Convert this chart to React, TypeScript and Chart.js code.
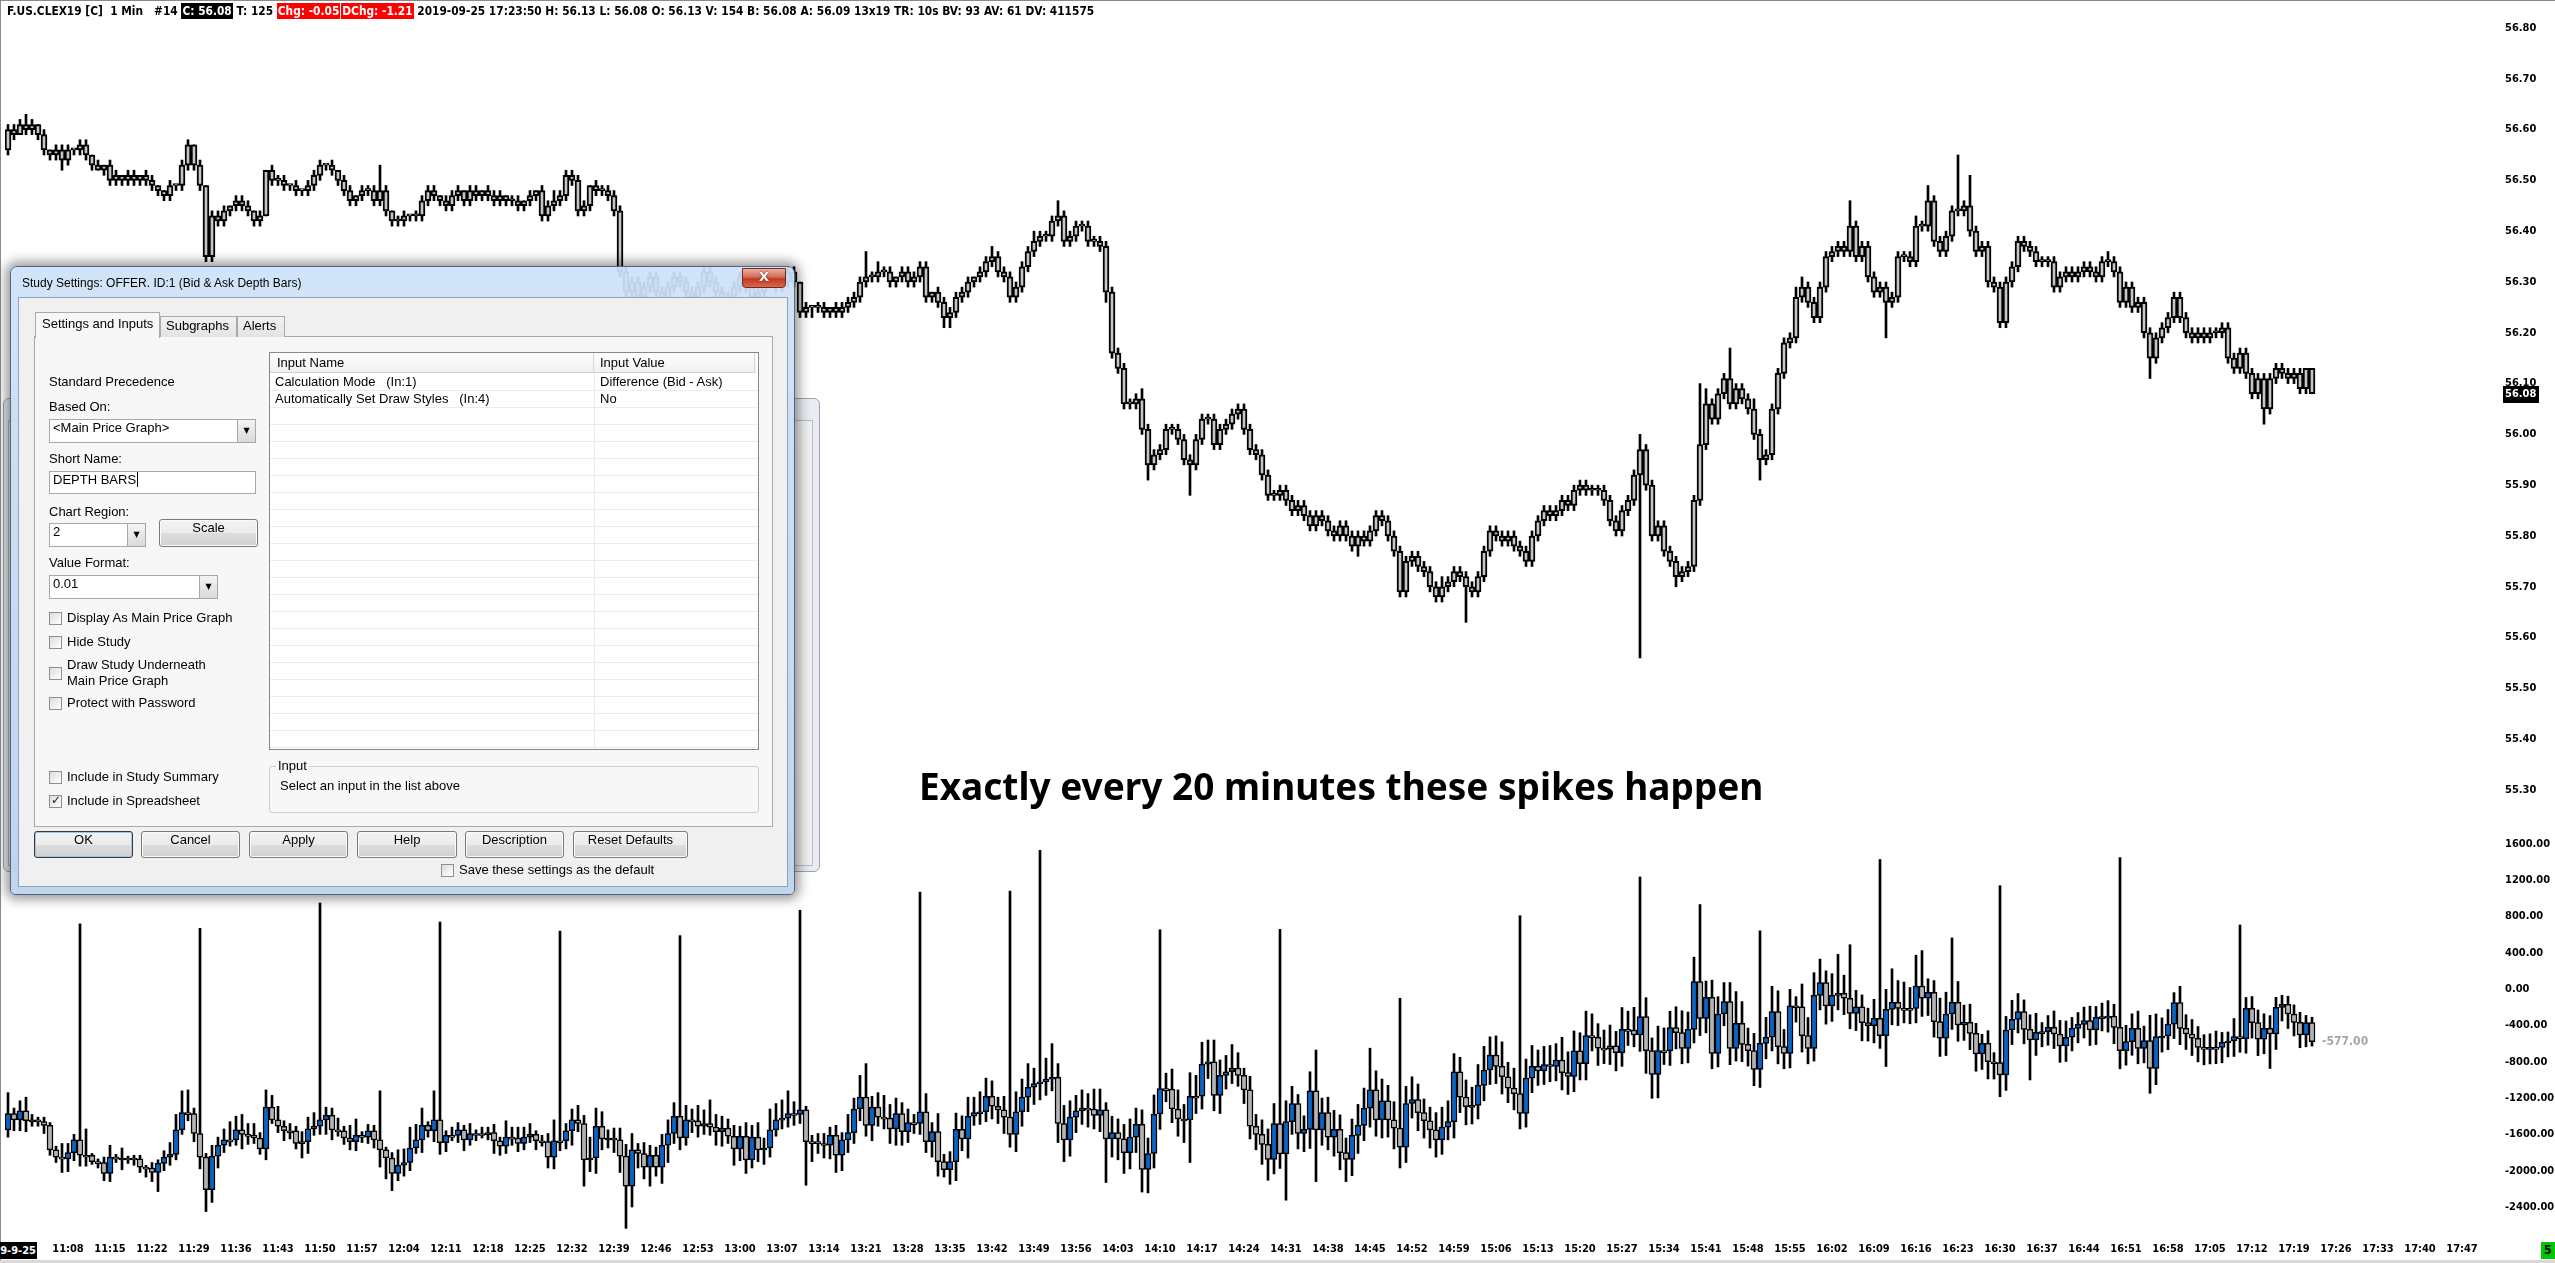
import React, { useEffect, useRef } from "react";
import { Chart, registerables } from "chart.js";
Chart.register(...registerables);

// ---------- categories (1-minute bars) ----------
const START_MINUTE = 10 * 60 + 58; // first slot 10:58
const SLOT_COUNT = 414;
const timeLabels: string[] = Array.from({ length: SLOT_COUNT }, (_, i) => {
  const m = START_MINUTE + i;
  return `${Math.floor(m / 60)}:${String(m % 60).padStart(2, "0")}`;
});
const FIRST_TICK_INDEX = 10; // 11:08
const TICK_EVERY = 7;

const priceTicks = [56.8, 56.7, 56.6, 56.5, 56.4, 56.3, 56.2, 56.1, 56.0, 55.9, 55.8, 55.7, 55.6, 55.5, 55.4, 55.3];
const depthTicks = [1600, 1200, 800, 400, 0, -400, -800, -1200, -1600, -2000, -2400];

// ---------- price (cents) ----------
const PRICE_OPEN0 = 5656;
const priceCloseCents = [
  5660, 5659, 5661, 5660, 5661, 5659, 5656, 5655, 5656, 5654,
  5656, 5656, 5657, 5655, 5653, 5652, 5653, 5650, 5651, 5650,
  5651, 5650, 5651, 5650, 5649, 5648, 5647, 5649, 5649, 5653,
  5657, 5653, 5649, 5635, 5643, 5642, 5644, 5645, 5646, 5645,
  5644, 5642, 5643, 5652, 5650, 5650, 5649, 5649, 5648, 5648,
  5649, 5651, 5653, 5653, 5652, 5650, 5648, 5646, 5647, 5648,
  5648, 5646, 5648, 5644, 5642, 5642, 5643, 5643, 5643, 5646,
  5648, 5647, 5646, 5645, 5647, 5648, 5646, 5648, 5647, 5648,
  5647, 5646, 5647, 5646, 5646, 5645, 5646, 5647, 5648, 5643,
  5645, 5646, 5647, 5651, 5650, 5644, 5645, 5649, 5648, 5648,
  5647, 5644, 5632, 5628, 5630, 5627, 5629, 5631, 5628, 5626,
  5629, 5631, 5630, 5628, 5627, 5629, 5632, 5630, 5628, 5626,
  5627, 5629, 5631, 5629, 5627, 5628, 5630, 5631, 5629, 5630,
  5632, 5630, 5624, 5625, 5625, 5625, 5624, 5625, 5624, 5625,
  5626, 5627, 5630, 5631, 5631, 5632, 5632, 5630, 5631, 5632,
  5630, 5631, 5633, 5627, 5628, 5626, 5623, 5624, 5627, 5628,
  5630, 5631, 5632, 5634, 5635, 5632, 5631, 5627, 5629, 5633,
  5636, 5638, 5639, 5639, 5642, 5643, 5638, 5639, 5641, 5641,
  5638, 5638, 5637, 5628, 5616, 5613, 5606, 5606, 5607, 5601,
  5594, 5596, 5597, 5601, 5601, 5599, 5595, 5594, 5599, 5603,
  5603, 5598, 5601, 5602, 5604, 5605, 5601, 5597, 5596, 5592,
  5588, 5588, 5589, 5587, 5585, 5586, 5584, 5582, 5584, 5583,
  5581, 5580, 5582, 5580, 5578, 5580, 5579, 5581, 5584, 5583,
  5580, 5577, 5569, 5575, 5576, 5574, 5573, 5570, 5568, 5570,
  5571, 5573, 5572, 5570, 5569, 5572, 5577, 5581, 5580, 5579,
  5580, 5578, 5577, 5575, 5580, 5583, 5585, 5584, 5585, 5587,
  5586, 5589, 5590, 5589, 5589, 5589, 5587, 5583, 5581, 5585,
  5587, 5592, 5597, 5590, 5580, 5582, 5577, 5575, 5572, 5573,
  5574, 5587, 5598, 5606, 5603, 5608, 5611, 5606, 5609, 5607,
  5605, 5600, 5595, 5596, 5605, 5612, 5618, 5619, 5627, 5629,
  5626, 5623, 5629, 5635, 5636, 5637, 5636, 5641, 5635, 5637,
  5631, 5628, 5629, 5626, 5627, 5635, 5635, 5634, 5641, 5641,
  5646, 5638, 5636, 5639, 5644, 5644, 5645, 5640, 5636, 5637,
  5630, 5629, 5622, 5630, 5633, 5638, 5637, 5636, 5634, 5634,
  5634, 5629, 5631, 5632, 5631, 5632, 5633, 5632, 5631, 5634,
  5634, 5632, 5626, 5629, 5625, 5626, 5620, 5615, 5619, 5621,
  5623, 5627, 5623, 5620, 5619, 5620, 5619, 5620, 5620, 5621,
  5615, 5613, 5616, 5612, 5608, 5611, 5605, 5611, 5613, 5612,
  5611, 5612, 5609, 5613, 5608,
];
const priceWickUpCents = [
  1, 1, 1, 2, 1, 0, 1, 0, 1, 1,
  1, 0, 1, 1, 0, 1, 0, 1, 1, 0,
  1, 1, 0, 1, 1, 0, 0, 1, 0, 1,
  1, 0, 1, 0, 1, 1, 1, 0, 1, 1,
  1, 0, 1, 0, 1, 1, 1, 0, 1, 0,
  1, 1, 1, 0, 1, 0, 1, 1, 0, 1,
  1, 1, 5, 1, 0, 1, 1, 0, 1, 1,
  1, 1, 0, 1, 1, 1, 0, 1, 1, 0,
  1, 1, 1, 0, 1, 1, 0, 1, 0, 1,
  1, 2, 1, 1, 1, 1, 1, 0, 1, 1,
  1, 1, 1, 1, 1, 1, 1, 1, 1, 1,
  1, 1, 1, 1, 1, 1, 1, 1, 1, 1,
  1, 1, 1, 1, 1, 1, 1, 1, 1, 1,
  1, 1, 0, 1, 0, 1, 1, 0, 1, 1,
  1, 1, 1, 5, 1, 2, 1, 1, 0, 1,
  1, 1, 1, 1, 0, 1, 1, 1, 1, 1,
  1, 0, 1, 1, 2, 1, 1, 1, 1, 1,
  1, 2, 1, 1, 1, 3, 1, 1, 1, 1,
  1, 1, 1, 1, 1, 1, 1, 1, 1, 2,
  1, 1, 1, 1, 1, 1, 1, 1, 1, 1,
  1, 1, 1, 1, 1, 1, 1, 1, 1, 1,
  1, 1, 1, 1, 1, 1, 1, 1, 1, 1,
  1, 1, 1, 1, 1, 1, 1, 1, 1, 1,
  1, 1, 1, 1, 1, 1, 1, 1, 1, 2,
  1, 1, 1, 1, 1, 1, 1, 1, 1, 1,
  1, 1, 1, 1, 1, 1, 1, 1, 1, 1,
  1, 1, 1, 1, 1, 1, 1, 1, 1, 1,
  1, 1, 3, 1, 1, 1, 1, 1, 1, 1,
  1, 1, 12, 3, 1, 1, 1, 6, 1, 1,
  1, 2, 1, 1, 1, 1, 1, 1, 2, 2,
  1, 1, 1, 1, 1, 1, 1, 5, 1, 1,
  1, 1, 1, 1, 1, 1, 1, 1, 2, 1,
  3, 1, 1, 1, 1, 11, 1, 6, 1, 1,
  1, 1, 1, 1, 1, 1, 1, 1, 1, 1,
  1, 1, 1, 1, 1, 1, 1, 1, 1, 1,
  2, 1, 1, 1, 1, 1, 1, 1, 1, 1,
  1, 1, 1, 1, 1, 1, 1, 1, 1, 1,
  1, 1, 1, 1, 1, 1, 1, 1, 1, 1,
  1, 1, 1, 0, 0,
];
const priceWickDownCents = [
  1, 1, 0, 1, 1, 1, 1, 1, 1, 2,
  1, 1, 1, 1, 1, 0, 1, 1, 1, 1,
  1, 1, 1, 1, 1, 1, 1, 1, 1, 1,
  1, 1, 1, 1, 1, 1, 1, 1, 1, 1,
  1, 1, 1, 0, 1, 1, 1, 1, 1, 1,
  1, 1, 1, 1, 1, 1, 1, 1, 1, 1,
  1, 1, 1, 1, 1, 1, 1, 1, 1, 1,
  1, 1, 1, 1, 1, 1, 1, 1, 1, 1,
  1, 1, 1, 1, 1, 1, 1, 1, 1, 1,
  1, 1, 1, 1, 1, 1, 1, 1, 1, 1,
  1, 1, 1, 1, 1, 1, 1, 1, 1, 1,
  1, 1, 1, 1, 1, 1, 1, 1, 1, 1,
  1, 1, 1, 1, 1, 1, 1, 1, 1, 1,
  1, 1, 1, 1, 2, 1, 1, 1, 1, 1,
  1, 1, 1, 1, 1, 1, 1, 1, 1, 1,
  1, 1, 1, 1, 1, 1, 2, 2, 1, 1,
  1, 1, 1, 1, 1, 1, 1, 1, 1, 1,
  1, 1, 1, 1, 1, 1, 1, 1, 1, 1,
  1, 1, 1, 2, 1, 1, 1, 1, 1, 1,
  3, 1, 1, 1, 1, 1, 1, 6, 1, 1,
  1, 1, 1, 1, 1, 1, 1, 1, 1, 1,
  1, 1, 1, 1, 1, 1, 1, 1, 1, 1,
  1, 1, 1, 1, 1, 2, 1, 1, 1, 1,
  1, 1, 1, 1, 1, 1, 1, 1, 1, 1,
  1, 1, 1, 7, 1, 1, 1, 1, 1, 1,
  1, 1, 1, 1, 1, 1, 1, 1, 1, 1,
  1, 1, 1, 1, 1, 1, 1, 1, 1, 1,
  1, 1, 36, 1, 1, 1, 1, 1, 2, 1,
  1, 1, 1, 1, 1, 1, 1, 1, 1, 1,
  1, 1, 4, 1, 1, 1, 1, 1, 1, 1,
  1, 1, 1, 1, 1, 1, 1, 1, 1, 1,
  1, 1, 1, 7, 1, 1, 1, 1, 1, 1,
  1, 1, 1, 1, 1, 1, 1, 1, 1, 1,
  1, 1, 1, 1, 1, 1, 1, 1, 1, 1,
  1, 1, 1, 1, 1, 1, 1, 1, 1, 1,
  1, 1, 1, 1, 1, 1, 1, 4, 1, 1,
  1, 1, 1, 1, 1, 1, 1, 1, 1, 1,
  1, 1, 1, 1, 1, 1, 3, 1, 1, 1,
  1, 1, 1, 1, 0,
];

// ---------- bid-ask depth difference ----------
const DEPTH_OPEN0 = -1550;
const depthClose = [
  -1370, -1440, -1340, -1450, -1440, -1460, -1500, -1770, -1850, -1870,
  -1800, -1660, -1830, -1830, -1900, -1910, -2030, -1850, -1870, -1860,
  -1860, -1870, -1960, -1970, -2020, -1920, -1850, -1820, -1550, -1360,
  -1370, -1590, -1850, -2210, -1840, -1720, -1660, -1660, -1550, -1600,
  -1610, -1640, -1760, -1300, -1440, -1510, -1560, -1560, -1700, -1680,
  -1540, -1510, -1440, -1390, -1550, -1560, -1640, -1680, -1610, -1630,
  -1560, -1660, -1770, -1860, -2030, -1940, -1910, -1750, -1660, -1500,
  -1560, -1440, -1690, -1610, -1610, -1550, -1660, -1590, -1590, -1600,
  -1580, -1670, -1730, -1630, -1640, -1700, -1630, -1600, -1670, -1680,
  -1850, -1670, -1670, -1560, -1440, -1480, -1880, -1860, -1510, -1650,
  -1640, -1660, -1840, -2170, -1770, -1810, -1960, -1830, -1960, -1720,
  -1590, -1400, -1640, -1440, -1450, -1510, -1480, -1520, -1570, -1530,
  -1620, -1760, -1620, -1880, -1630, -1770, -1750, -1550, -1440, -1420,
  -1370, -1380, -1330, -1680, -1680, -1700, -1720, -1610, -1830, -1660,
  -1580, -1320, -1190, -1500, -1300, -1410, -1420, -1540, -1370, -1570,
  -1470, -1480, -1350, -1680, -1570, -1900, -1990, -1900, -1545, -1650,
  -1400, -1360, -1350, -1180, -1290, -1330, -1410, -1600, -1350, -1190,
  -1080, -1040, -1020, -990, -970, -1480, -1660, -1410, -1340, -1310,
  -1320, -1390, -1330, -1650, -1580, -1650, -1800, -1630, -1490, -1985,
  -1810, -1375, -1095, -1100, -1320, -1430, -1440, -1180, -1180, -825,
  -800, -1170, -950, -910, -870, -950, -1110, -1510, -1600, -1710,
  -1875, -1480, -1815, -1460, -1260, -1590, -1545, -1120, -1550, -1360,
  -1630, -1545, -1800, -1875, -1610, -1500, -1310, -1110, -1440, -1230,
  -1440, -1530, -1740, -1260, -1215, -1360, -1450, -1550, -1660, -1520,
  -1460, -910, -1190, -1295, -1280, -1060, -890, -725, -850, -965,
  -1090, -1150, -1370, -980, -850, -900, -830, -850, -780, -920,
  -960, -680, -820, -512, -530, -650, -660, -625, -700, -442,
  -450, -505, -303, -677, -938, -677, -680, -423, -478, -652,
  -442, 83, -321, -90, -707, -273, -137, -652, -376, -608,
  -677, -883, -597, -530, -248, -633, -707, -182, -193, -512,
  -652, -68, 72, -185, -68, -46, -100, -266, -193, -369,
  -402, -321, -512, -222, -145, -211, -211, -211, 35, -100,
  -35, -358, -541, -273, -145, -394, -365, -486, -714, -597,
  -799, -810, -945, -450, -332, -248, -442, -560, -475, -468,
  -420, -494, -626, -530, -431, -387, -347, -450, -310, -303,
  -296, -420, -677, -578, -431, -652, -567, -872, -523, -516,
  -384, -148, -431, -494, -541, -641, -663, -641, -641, -586,
  -571, -523, -545, -211, -369, -552, -431, -494, -200, -167,
  -273, -365, -505, -369, -577,
];
const depthWickUp = [
  230, 60, 110, 150, 60, 30, 50, 30, 40, 150,
  100, 60, 2380, 290, 20, 30, 60, 130, 30, 110,
  20, 30, 40, 20, 60, 40, 70, 130, 170, 240,
  250, 60, 2260, 40, 120, 90, 120, 200, 150, 170,
  120, 130, 60, 190, 130, 150, 60, 80, 50, 110,
  130, 150, 2390, 90, 80, 130, 50, 140, 180, 40,
  70, 60, 540, 30, 60, 170, 150, 230, 170, 190,
  40, 320, 2180, 50, 90, 80, 50, 110, 40, 70,
  60, 90, 40, 180, 110, 120, 110, 120, 40, 60,
  90, 230, 2310, 80, 120, 160, 90, 230, 200, 160,
  90, 110, 130, 130, 180, 70, 120, 110, 90, 120,
  150, 150, 1990, 160, 120, 170, 150, 260, 140, 130,
  100, 120, 110, 150, 130, 160, 110, 230, 180, 200,
  250, 130, 2200, 40, 70, 90, 110, 90, 110, 80,
  200, 120, 240, 370, 120, 160, 240, 150, 170, 120,
  150, 90, 2420, 200, 100, 200, 80, 110, 180, 150,
  210, 170, 220, 200, 170, 100, 150, 2490, 220, 200,
  260, 170, 2550, 230, 370, 150, 200, 180, 170, 200,
  160, 220, 230, 80, 180, 150, 160, 200, 180, 160,
  170, 210, 1750, 170, 220, 210, 160, 260, 230, 240,
  240, 240, 170, 180, 260, 170, 80, 150, 130, 160,
  170, 220, 2140, 230, 190, 100, 150, 210, 450, 160,
  170, 210, 160, 160, 180, 230, 220, 460, 210, 240,
  170, 200, 1430, 190, 250, 170, 150, 150, 190, 220,
  230, 200, 160, 190, 200, 230, 260, 200, 210, 270,
  160, 220, 1960, 210, 230, 180, 200, 210, 180, 250,
  230, 220, 200, 270, 240, 150, 200, 230, 160, 240,
  200, 250, 1540, 210, 140, 270, 250, 180, 230, 240,
  190, 270, 850, 180, 190, 190, 210, 210, 350, 240,
  180, 190, 1240, 220, 280, 230, 190, 180, 100, 250,
  200, 250, 260, 130, 240, 430, 200, 590, 180, 130,
  160, 210, 1750, 220, 370, 240, 290, 230, 340, 390,
  150, 130, 260, 240, 710, 230, 190, 200, 110, 100,
  140, 100, 1950, 150, 210, 200, 130, 160, 210, 100,
  130, 180, 150, 180, 120, 130, 150, 160, 120, 150,
  170, 130, 1870, 180, 160, 190, 160, 280, 250, 200,
  160, 110, 180, 150, 160, 130, 140, 150, 180, 110,
  100, 200, 1230, 120, 130, 140, 160, 140, 110, 100,
  90, 100, 110, 80, 60,
];
const depthWickDown = [
  80, 120, 120, 120, 60, 50, 90, 60, 60, 150,
  140, 90, 120, 120, 30, 60, 80, 90, 40, 120,
  60, 70, 60, 100, 100, 210, 80, 90, 60, 50,
  80, 90, 130, 240, 140, 130, 80, 70, 60, 160,
  100, 60, 60, 120, 40, 70, 110, 90, 60, 160,
  130, 70, 90, 160, 110, 60, 70, 90, 100, 60,
  70, 90, 190, 230, 190, 80, 120, 90, 60, 140,
  70, 120, 130, 100, 60, 80, 120, 60, 80, 40,
  60, 140, 100, 80, 80, 90, 70, 60, 100, 50,
  120, 130, 110, 90, 160, 90, 290, 130, 170, 120,
  100, 140, 180, 465, 230, 160, 130, 210, 100, 180,
  190, 110, 130, 80, 130, 120, 90, 90, 150, 160,
  80, 180, 130, 150, 90, 130, 160, 100, 70, 100,
  100, 120, 100, 480, 220, 110, 140, 150, 190, 170,
  140, 120, 130, 120, 170, 100, 120, 160, 180, 150,
  120, 110, 120, 120, 170, 160, 80, 160, 210, 130,
  210, 100, 130, 110, 140, 150, 180, 140, 190, 160,
  160, 190, 180, 150, 130, 210, 240, 180, 170, 150,
  200, 150, 180, 480, 200, 230, 230, 180, 170, 250,
  260, 160, 170, 140, 150, 190, 250, 470, 190, 140,
  160, 170, 200, 150, 130, 120, 150, 140, 170, 220,
  230, 160, 160, 510, 140, 170, 200, 210, 570, 170,
  140, 210, 190, 245, 180, 200, 170, 210, 180, 200,
  190, 230, 230, 170, 160, 200, 190, 200, 190, 160,
  140, 180, 170, 200, 190, 150, 170, 160, 190, 190,
  160, 180, 170, 150, 160, 160, 150, 170, 160, 190,
  200, 170, 180, 180, 150, 190, 160, 170, 200, 150,
  170, 130, 180, 250, 265, 260, 150, 160, 180, 170,
  160, 150, 190, 160, 170, 150, 130, 180, 140, 190,
  170, 180, 200, 170, 150, 190, 170, 160, 170, 180,
  170, 140, 160, 200, 170, 160, 180, 170, 190, 200,
  170, 190, 140, 340, 170, 190, 160, 170, 160, 200,
  190, 170, 200, 190, 170, 180, 170, 180, 190, 170,
  190, 180, 240, 170, 160, 150, 160, 440, 170, 160,
  150, 160, 180, 170, 150, 160, 150, 170, 160, 150,
  170, 180, 200, 160, 150, 170, 160, 275, 180, 170,
  150, 160, 180, 170, 190, 160, 170, 160, 180, 170,
  160, 170, 150, 160, 170, 180, 160, 380, 170, 150,
  160, 150, 140, 130, 50,
];

// ---------- value-axis ranges (chart areas: price y 22..810, depth y 826..1232) ----------
const PRICE_MAX = 56.8118;
const PRICE_MIN = 55.2606;
const DEPTH_MAX = 1798.3;
const DEPTH_MIN = -2675.5;

const AXIS_FONT = "'DejaVu Sans Condensed', 'Liberation Sans Narrow', 'DejaVu Sans', sans-serif";
const UI = "'Liberation Sans', Arial, sans-serif";
const BLUE = "#0a64c8";
const GREY = "#b3b3b3";

function buildCandles(open0: number, closes: number[], up: number[], down: number[], div: number) {
  const bodies: number[][] = [];
  const wicks: number[][] = [];
  const rising: boolean[] = [];
  let o = open0;
  for (let i = 0; i < closes.length; i++) {
    const c = closes[i];
    const lo = Math.min(o, c);
    const hi = Math.max(o, c);
    bodies.push([lo / div, hi / div]);
    wicks.push([(lo - down[i]) / div, (hi + up[i]) / div]);
    rising.push(c > o);
    o = c;
  }
  return { bodies, wicks, rising };
}

const axisTickFont = { family: AXIS_FONT, size: 11, weight: "bold" as const };
// label offset is done through an invisible tick length so that it does not add vertical padding
const yGrid = { display: false, drawTicks: true, tickLength: 16 };

function makePriceChart(canvas: HTMLCanvasElement) {
  const { bodies, wicks } = buildCandles(PRICE_OPEN0, priceCloseCents, priceWickUpCents, priceWickDownCents, 100);
  const lastPrice = priceCloseCents[priceCloseCents.length - 1] / 100;
  const tag = {
    id: "priceTag",
    afterDraw(chart: any) {
      const ctx = chart.ctx;
      const y = Math.round(chart.scales.y.getPixelForValue(lastPrice));
      ctx.save();
      ctx.fillStyle = "#000";
      ctx.fillRect(2503, y - 8, 36, 17);
      ctx.fillStyle = "#fff";
      ctx.font = `bold 11px ${AXIS_FONT}`;
      ctx.textBaseline = "middle";
      ctx.textAlign = "left";
      ctx.fillText(lastPrice.toFixed(2), 2505, y + 0.5);
      ctx.restore();
    },
  };
  return new Chart(canvas, {
    type: "bar",
    data: {
      labels: timeLabels,
      datasets: [
        { data: bodies as any, backgroundColor: "#c6c6c6", borderColor: "#000", borderWidth: 2, borderSkipped: false, barThickness: 6, minBarLength: 2, grouped: false, order: 0 } as any,
        { data: wicks as any, backgroundColor: "#000", borderWidth: 0, barThickness: 2, grouped: false, order: 1 } as any,
      ],
    },
    options: {
      responsive: false,
      animation: false,
      devicePixelRatio: 1,
      events: [],
      layout: { padding: { left: 5, top: 22, right: 0, bottom: 8 } },
      plugins: { legend: { display: false }, tooltip: { enabled: false } },
      scales: {
        x: { type: "category", display: false, offset: true, grid: { display: false } },
        y: {
          position: "right",
          min: PRICE_MIN,
          max: PRICE_MAX,
          grid: yGrid,
          border: { display: false },
          afterBuildTicks: (s: any) => { s.ticks = priceTicks.map((v) => ({ value: v })); },
          afterFit: (s: any) => { s.width = 66; },
          ticks: { autoSkip: false, padding: 0, color: "#000", font: axisTickFont, callback: (v: any) => Number(v).toFixed(2) },
        },
      },
    } as any,
    plugins: [tag],
  });
}

function makeDepthChart(canvas: HTMLCanvasElement) {
  const { bodies, wicks, rising } = buildCandles(DEPTH_OPEN0, depthClose, depthWickUp, depthWickDown, 1);
  const lastIndex = depthClose.length - 1;
  const lastValue = depthClose[lastIndex];
  const tag = {
    id: "depthTag",
    afterDraw(chart: any) {
      const ctx = chart.ctx;
      const x = chart.scales.x.getPixelForValue(lastIndex) + 10;
      const y = chart.scales.y.getPixelForValue(lastValue);
      ctx.save();
      ctx.fillStyle = "#a6a6a6";
      ctx.font = `bold 12px ${AXIS_FONT}`;
      ctx.textBaseline = "middle";
      ctx.textAlign = "left";
      ctx.fillText(lastValue.toFixed(2), x, y);
      ctx.restore();
    },
  };
  return new Chart(canvas, {
    type: "bar",
    data: {
      labels: timeLabels,
      datasets: [
        { data: bodies as any, backgroundColor: rising.map((r) => (r ? BLUE : GREY)), borderColor: "#000", borderWidth: 1.5, borderSkipped: false, barThickness: 6, minBarLength: 2, grouped: false, order: 0 } as any,
        { data: wicks as any, backgroundColor: "#000", borderWidth: 0, barThickness: 2, grouped: false, order: 1 } as any,
      ],
    },
    options: {
      responsive: false,
      animation: false,
      devicePixelRatio: 1,
      events: [],
      layout: { padding: { left: 5, top: 8, right: 0, bottom: 0 } },
      plugins: { legend: { display: false }, tooltip: { enabled: false } },
      scales: {
        x: {
          type: "category",
          offset: true,
          grid: { display: false, drawTicks: true, tickLength: 11 },
          border: { display: false },
          afterFit: (s: any) => { s.height = 31; },
          ticks: {
            autoSkip: false,
            maxRotation: 0,
            minRotation: 0,
            padding: 0,
            color: "#000",
            font: axisTickFont,
            callback: (_v: any, idx: number) =>
              idx >= FIRST_TICK_INDEX && (idx - FIRST_TICK_INDEX) % TICK_EVERY === 0 ? timeLabels[idx] : "",
          },
        },
        y: {
          position: "right",
          min: DEPTH_MIN,
          max: DEPTH_MAX,
          grid: yGrid,
          border: { display: false },
          afterBuildTicks: (s: any) => { s.ticks = depthTicks.map((v) => ({ value: v })); },
          afterFit: (s: any) => { s.width = 66; },
          ticks: { autoSkip: false, padding: 0, color: "#000", font: axisTickFont, callback: (v: any) => Number(v).toFixed(2) },
        },
      },
    } as any,
    plugins: [tag],
  });
}

// ---------- dialog helpers ----------
const A = (l: number, t: number, w?: number, h?: number): React.CSSProperties => ({ position: "absolute", left: l, top: t, width: w, height: h, boxSizing: "border-box" });

function Txt({ x, y, children, size = 13 }: any) {
  return <div style={{ position: "absolute", left: x, top: y - 8, font: `${size}px ${UI}`, lineHeight: "16px", whiteSpace: "pre", color: "#000" }}>{children}</div>;
}
function Check({ x, y, checked }: any) {
  return (
    <div style={{ ...A(x, y - 6, 13, 13), border: "1px solid #8e8f8f", background: "linear-gradient(135deg,#dcdcdc,#ffffff)" }}>
      {checked ? <span style={{ position: "absolute", left: 1, top: -3, font: "bold 12px 'DejaVu Sans', sans-serif", color: "#202020" }}>✓</span> : null}
    </div>
  );
}
function Combo({ x, y, w, h, text }: any) {
  return (
    <div style={{ ...A(x, y, w, h), background: "#fff", border: "1px solid #a8a8a8" }}>
      <div style={{ position: "absolute", left: 3, top: 0, lineHeight: `${h - 2}px`, font: `13px ${UI}` }}>{text}</div>
      <div style={{ position: "absolute", right: 0, top: 0, width: 17, height: h - 2, background: "linear-gradient(#f4f4f4,#dadada)", borderLeft: "1px solid #a8a8a8", textAlign: "center", lineHeight: `${h - 2}px`, fontSize: 8, fontFamily: "'DejaVu Sans', sans-serif" }}>▼</div>
    </div>
  );
}
function Btn({ x, y, w, h, text, def }: any) {
  return (
    <div style={{ ...A(x, y, w, h), border: def ? "1px solid #3a3a3a" : "1px solid #7a7a7a", borderRadius: 3, background: "linear-gradient(#f3f3f3 0%, #ebebeb 50%, #dddddd 51%, #d1d1d1 100%)", textAlign: "center", lineHeight: `${h - 2}px`, font: `13px ${UI}`, boxShadow: def ? "inset 0 0 0 1px #9fc4e6" : "inset 0 0 0 1px #fafafa" }}>{text}</div>
  );
}

function Dialog() {
  return (
    <>
      {/* window behind the dialog */}
      <div style={{ ...A(3, 398, 817, 474), background: "#e9edf2", border: "1px solid #9aa3ae", borderRadius: 6 }} />
      <div style={{ ...A(8, 420, 805, 446), background: "#f0f0f0", border: "1px solid #b7bec7" }} />
      {/* dialog frame */}
      <div style={{ ...A(10, 266, 785, 629), borderRadius: "7px 7px 5px 5px", border: "1px solid #55677e", background: "linear-gradient(rgba(206,226,247,0.93), rgba(187,211,238,0.93))", boxShadow: "0 0 12px 4px rgba(0,0,0,0.42)" }} />
      <Txt x={22} y={283} size={12}>Study Settings: OFFER. ID:1 (Bid &amp; Ask Depth Bars)</Txt>
      <div style={{ ...A(742, 268, 44, 20), borderRadius: "0 0 4px 4px", border: "1px solid #6e2a1f", background: "linear-gradient(#eab0a4 0%, #d66a55 45%, #c23a22 55%, #d9664c 100%)", textAlign: "center", lineHeight: "18px", color: "#fff", font: "bold 13px 'DejaVu Sans', sans-serif", textShadow: "0 0 2px #4a1008" }}>X</div>
      {/* client area */}
      <div style={{ ...A(18, 297, 770, 590), background: "#f0f0f0", border: "1px solid #8fa3bb" }} />
      {/* tab panel */}
      <div style={{ ...A(34, 336, 739, 491), background: "#f7f7f7", border: "1px solid #a9a9a9" }} />
      <div style={{ ...A(160, 316, 77, 21), background: "linear-gradient(#f2f2f2,#e3e3e3)", border: "1px solid #a9a9a9", borderBottom: "none" }} />
      <div style={{ ...A(237, 316, 48, 21), background: "linear-gradient(#f2f2f2,#e3e3e3)", border: "1px solid #a9a9a9", borderBottom: "none" }} />
      <div style={{ ...A(35, 312, 125, 26), background: "#f7f7f7", border: "1px solid #a9a9a9", borderBottom: "none" }} />
      <Txt x={42} y={324}>Settings and Inputs</Txt>
      <Txt x={166} y={326}>Subgraphs</Txt>
      <Txt x={243} y={326}>Alerts</Txt>
      {/* left column */}
      <Txt x={49} y={382}>Standard Precedence</Txt>
      <Txt x={49} y={407}>Based On:</Txt>
      <Combo x={49} y={419} w={207} h={24} text="<Main Price Graph>" />
      <Txt x={49} y={459}>Short Name:</Txt>
      <div style={{ ...A(49, 471, 207, 23), background: "#fff", border: "1px solid #a8a8a8" }}>
        <div style={{ position: "absolute", left: 3, top: 0, lineHeight: "21px", font: `13px ${UI}` }}>DEPTH BARS<span style={{ borderLeft: "1px solid #000", marginLeft: 1 }}>&#8203;</span></div>
      </div>
      <Txt x={49} y={512}>Chart Region:</Txt>
      <Combo x={49} y={523} w={97} h={24} text="2" />
      <Btn x={159} y={519} w={99} h={28} text="Scale" />
      <Txt x={49} y={563}>Value Format:</Txt>
      <Combo x={49} y={575} w={169} h={24} text="0.01" />
      <Check x={49} y={618} />
      <Txt x={67} y={618}>Display As Main Price Graph</Txt>
      <Check x={49} y={642} />
      <Txt x={67} y={642}>Hide Study</Txt>
      <Check x={49} y={673} />
      <Txt x={67} y={665}>Draw Study Underneath</Txt>
      <Txt x={67} y={681}>Main Price Graph</Txt>
      <Check x={49} y={703} />
      <Txt x={67} y={703}>Protect with Password</Txt>
      <Check x={49} y={777} />
      <Txt x={67} y={777}>Include in Study Summary</Txt>
      <Check x={49} y={801} checked />
      <Txt x={67} y={801}>Include in Spreadsheet</Txt>
      {/* inputs table */}
      <div style={{ ...A(269, 352, 490, 398), background: "#fff", border: "1px solid #828790" }} />
      <div style={{ ...A(270, 353, 486, 20), background: "linear-gradient(#ffffff,#eef0f3)", borderBottom: "1px solid #cfd2d6" }} />
      <div style={{ ...A(593, 353, 1, 20), background: "#d5d5d5" }} />
      <div style={{ ...A(754, 353, 1, 20), background: "#d5d5d5" }} />
      {Array.from({ length: 22 }, (_, k) => (
        <div key={k} style={{ ...A(270, 390 + 17 * k, 488, 1), background: "#ececec" }} />
      ))}
      <div style={{ ...A(594, 373, 1, 376), background: "#ececec" }} />
      <Txt x={277} y={363}>Input Name</Txt>
      <Txt x={600} y={363}>Input Value</Txt>
      <Txt x={275} y={382}>{"Calculation Mode   (In:1)"}</Txt>
      <Txt x={600} y={382}>Difference (Bid - Ask)</Txt>
      <Txt x={275} y={399}>{"Automatically Set Draw Styles   (In:4)"}</Txt>
      <Txt x={600} y={399}>No</Txt>
      {/* input group box */}
      <div style={{ ...A(269, 766, 490, 47), border: "1px solid #cdcdcd", borderRadius: 3 }} />
      <div style={{ position: "absolute", left: 276, top: 758, padding: "0 2px", background: "#f7f7f7", font: `13px ${UI}`, lineHeight: "16px" }}>Input</div>
      <Txt x={280} y={786}>Select an input in the list above</Txt>
      {/* buttons */}
      <Btn x={34} y={831} w={99} h={27} text="OK" def />
      <Btn x={141} y={831} w={99} h={27} text="Cancel" />
      <Btn x={249} y={831} w={99} h={27} text="Apply" />
      <Btn x={357} y={831} w={100} h={27} text="Help" />
      <Btn x={465} y={831} w={99} h={27} text="Description" />
      <Btn x={573} y={831} w={115} h={27} text="Reset Defaults" />
      <Check x={441} y={870} />
      <Txt x={459} y={870}>Save these settings as the default</Txt>
    </>
  );
}

export default function App() {
  const priceRef = useRef<HTMLCanvasElement>(null);
  const depthRef = useRef<HTMLCanvasElement>(null);

  useEffect(() => {
    document.body.style.margin = "0";
    const c1 = makePriceChart(priceRef.current!);
    const c2 = makeDepthChart(depthRef.current!);
    return () => {
      c1.destroy();
      c2.destroy();
    };
  }, []);

  const box = (bg: string): React.CSSProperties => ({ background: bg, color: "#fff", padding: "1px 1px" });

  return (
    <div style={{ position: "fixed", left: 0, top: 0, width: 2555, height: 1263, overflow: "hidden", background: "#fff" }}>
      <canvas ref={priceRef} width={2555} height={818} style={{ position: "absolute", left: 0, top: 0 }} />
      <canvas ref={depthRef} width={2555} height={445} style={{ position: "absolute", left: 0, top: 818 }} />

      {/* frame lines */}
      <div style={{ ...A(0, 0, 2555, 1), background: "#8a8a8a" }} />
      <div style={{ ...A(0, 0, 1, 1263), background: "#8a8a8a" }} />
      <div style={{ ...A(0, 1260, 2555, 3), background: "#d9d9d9" }} />

      {/* header line */}
      <div style={{ position: "absolute", left: 7, top: 4, whiteSpace: "pre", font: `bold 11.8px ${AXIS_FONT}`, lineHeight: "15px", color: "#000" }}>
        {"F.US.CLEX19 [C]  1 Min   #14 "}
        <span style={box("#000")}>C: 56.08</span>
        {" T: 125 "}
        <span style={box("#f00")}>Chg: -0.05</span>
        <span style={{ ...box("#f00"), borderLeft: "1px solid #fff" }}>DChg: -1.21</span>
        {" 2019-09-25 17:23:50 H: 56.13 L: 56.08 O: 56.13 V: 154 B: 56.08 A: 56.09 13x19 TR: 10s BV: 93 AV: 61 DV: 411575"}
      </div>

      {/* annotation */}
      <div style={{ position: "absolute", left: 919, top: 762, whiteSpace: "pre", font: "bold 37px 'Noto Sans', 'DejaVu Sans', sans-serif", lineHeight: "48px", color: "#000" }}>
        Exactly every 20 minutes these spikes happen
      </div>

      {/* date at the start of the time axis */}
      <div style={{ ...A(0, 1242, 37, 17), background: "#000", overflow: "hidden" }}>
        <div style={{ position: "absolute", right: 1, top: 0, color: "#fff", font: `bold 11px ${AXIS_FONT}`, lineHeight: "17px", whiteSpace: "pre" }}>19-9-25</div>
      </div>
      {/* green status box */}
      <div style={{ ...A(2541, 1242, 14, 17), background: "#00c800", font: `bold 12px ${AXIS_FONT}`, lineHeight: "17px", paddingLeft: 3, color: "#000" }}>5</div>

      <Dialog />
    </div>
  );
}
